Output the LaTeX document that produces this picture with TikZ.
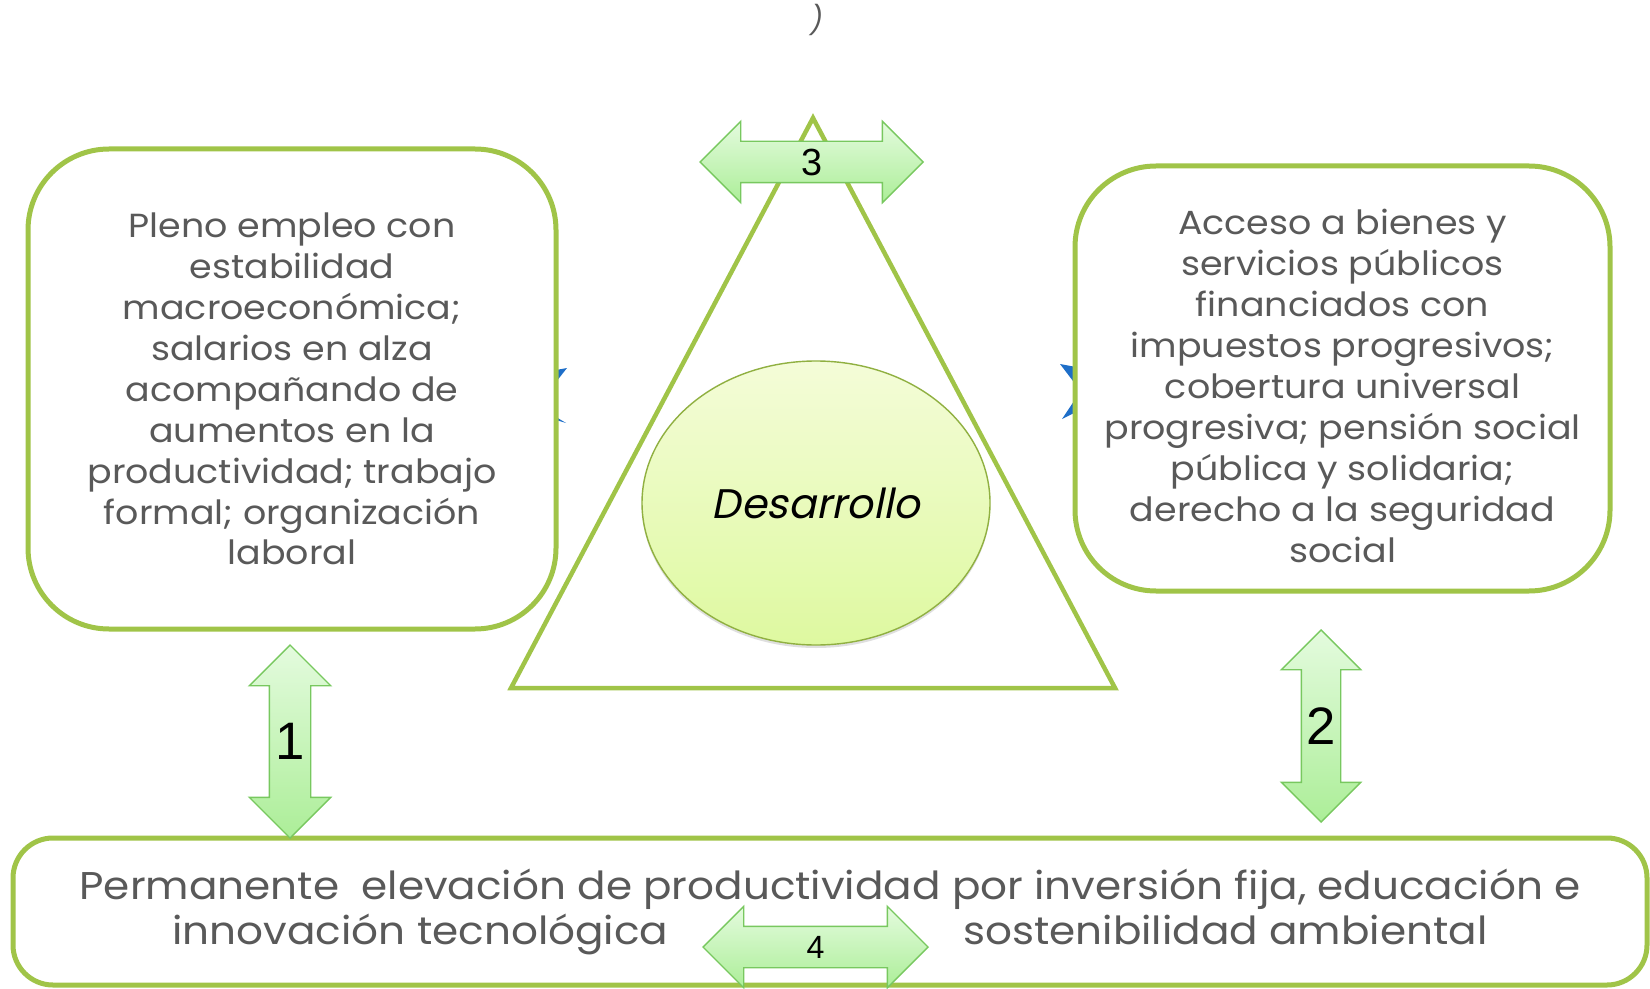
\documentclass[tikz,border=0pt]{standalone}
\usepackage{fontspec}
\setmainfont{Poppins}[FakeStretch=1.09]
\newfontfamily\slantfont[FakeSlant=0.2]{Poppins}
\newfontfamily\numfont{Liberation Sans}
\usetikzlibrary{shapes.arrows,shapes.geometric,shadows}

\definecolor{boxgreen}{RGB}{160,196,72}
\definecolor{txtgray}{RGB}{89,89,89}
\definecolor{arrowline}{RGB}{120,200,95}
\definecolor{arrowtop}{RGB}{228,251,222}
\definecolor{arrowbot}{RGB}{172,238,152}
\definecolor{ovaltop}{RGB}{244,252,216}
\definecolor{ovalbot}{RGB}{222,249,160}
\definecolor{markblue}{RGB}{30,110,200}

\begin{document}
\begin{tikzpicture}[
    box/.style={draw=boxgreen, line width=0.1cm, rounded corners=1.62cm, fill=white,
        text=txtgray, align=center, inner sep=0pt, font=\fontsize{19}{23.3}\selectfont},
    oval/.style={ellipse, draw=boxgreen!90!black, line width=0.8pt, top color=ovaltop, bottom color=ovalbot,
        drop shadow={shadow xshift=0cm, shadow yshift=-0.06cm, opacity=0.25}},
    dblarrow/.style={double arrow, draw=arrowline, line width=0.8pt, top color=arrowtop, bottom color=arrowbot,
        double arrow head extend=0.4cm, double arrow tip angle=90, inner xsep=0pt, inner ysep=0.4cm},
    vdblarrow/.style={dblarrow, shape border rotate=90, inner xsep=0.4cm, inner ysep=0pt},
    num/.style={font=\numfont\fontsize{#1}{#1}\selectfont, text=black},
]
\useasboundingbox (0,0) rectangle (33,19.76);

% Top mark
\node[text=txtgray, font=\slantfont\fontsize{16}{16}\selectfont] (paren) at (16.3,19.36) {)};

% Triangle and centre
\draw[draw=boxgreen, line width=0.09cm, fill=white] (16.26,17.4) -- (22.3,6.0) -- (10.22,6.0) -- cycle;
\node[oval, minimum width=6.96cm, minimum height=5.68cm] (desarrollo) at (16.32,9.7)
    {\slantfont\fontsize{23.5}{28}\selectfont\color{black}Desarrollo};

% Blue marks peeking out beside the boxes
\fill[markblue] (11.12,12.36) -- (11.34,12.4) -- (11.12,12.12) -- cycle;
\fill[markblue] (11.12,11.42) -- (11.32,11.3) -- (11.12,11.36) -- cycle;
\fill[markblue] (21.2,12.48) -- (21.52,12.42) -- (21.52,12.06) -- cycle;
\fill[markblue] (21.52,11.8) -- (21.52,11.52) -- (21.24,11.38) -- cycle;

% Side boxes
\node[box, minimum width=10.56cm, minimum height=9.6cm] (empleo) at (5.84,11.98) {%
    Pleno empleo con\\ estabilidad\\ macroeconómica;\\ salarios en alza\\ acompañando de\\
    aumentos en la\\ productividad; trabajo\\ formal; organización\\ laboral};
\node[box, minimum width=10.7cm, minimum height=8.5cm] (bienes) at (26.85,12.19) {};
\node[text=txtgray, align=center, font=\fontsize{19}{23.3}\selectfont] (bienestxt) at (26.85,12.04) {%
    Acceso a bienes y\\ servicios públicos\\ financiados con\\ impuestos progresivos;\\
    cobertura universal\\ progresiva; pensión social\\ pública y solidaria;\\
    derecho a la seguridad\\ social};

% Bottom box
\node[box, rounded corners=0.8cm, minimum width=32.68cm, minimum height=2.94cm,
    font=\fontsize{22}{25.6}\selectfont] (productividad) at (16.6,1.53) {%
    Permanente\ \ elevación de productividad por inversión fija, educación e\\
    innovación tecnológica\hspace{5.9cm}sostenibilidad ambiental};

% Double arrows
\node[dblarrow, minimum height=4.46cm] (flecha3) at (16.23,16.52) {};
\node[num=21.5] (n3) at (flecha3) {3};
\node[dblarrow, minimum height=4.5cm] (flecha4) at (16.31,0.82) {};
\node[num=18.3] (n4) at (flecha4) {4};
\node[vdblarrow, minimum height=3.86cm] (flecha1) at (5.8,4.93) {};
\node[num=30] (n1) at (flecha1) {1};
\node[vdblarrow, minimum height=3.84cm, inner xsep=0.38cm] (flecha2) at (26.42,5.24) {};
\node[num=30] (n2) at (flecha2) {2};

\end{tikzpicture}
\end{document}
